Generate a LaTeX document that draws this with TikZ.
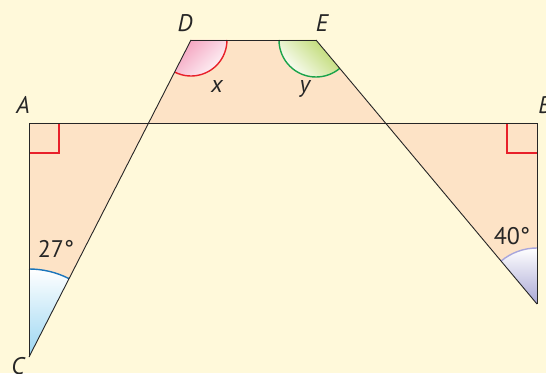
\documentclass[tikz,border=0pt]{standalone}
\usepackage{fontspec}
\setmainfont{PT Sans}
\usetikzlibrary{calc}

\definecolor{paper}{HTML}{FFF9DA}
\definecolor{peach}{HTML}{FDE3C6}
\definecolor{markred}{HTML}{E8202A}
\definecolor{pinkfill}{HTML}{F4A3BF}
\definecolor{greenline}{HTML}{1AA34A}
\definecolor{greenfill}{HTML}{BBD86A}
\definecolor{blueline}{HTML}{1B75BB}
\definecolor{bluefill}{HTML}{9AD6F2}
\definecolor{lavline}{HTML}{A8A6DC}
\definecolor{lavfill}{HTML}{A9A7D4}

\begin{document}
\begin{tikzpicture}[
    x=1pt, y=1pt,
    edge/.style={draw=black!85, line width=0.9pt},
    arcmark/.style={line width=1.4pt},
    rightmark/.style={draw=markred, line width=1.2pt},
    lbl/.style={font=\fontsize{24}{28}\selectfont\itshape, inner sep=0pt,
                anchor=base, text=black!85},
    deg/.style={font=\fontsize{24}{28}\selectfont, inner sep=0pt,
                anchor=base, text=black!85}
  ]
  \fill[paper] (0,0) rectangle (546,373);
  \useasboundingbox (0,0) rectangle (546,373);

  \coordinate (A) at (29,250);
  \coordinate (B) at (537,250);
  \coordinate (C) at (29,16);
  \coordinate (F) at (537,69);
  \coordinate (D) at (191,333);
  \coordinate (E) at (316,333);
  \coordinate (P) at (intersection of C--D and A--B);
  \coordinate (Q) at (intersection of F--E and A--B);

  % shaded regions
  \fill[peach] (A) -- (P) -- (C) -- cycle;
  \fill[peach] (P) -- (D) -- (E) -- (Q) -- cycle;
  \fill[peach] (Q) -- (B) -- (F) -- cycle;

  % angle sectors
  \shade[top color=white, bottom color=bluefill]
    (C) -- ++(90:88) arc[start angle=90, end angle=62.93, radius=88] -- cycle;
  \draw[arcmark, blueline] (C) ++(90:88) arc[start angle=90, end angle=62.93, radius=88];

  \shade[top color=white, bottom color=lavfill]
    (F) -- ++(90:56) arc[start angle=90, end angle=129.94, radius=56] -- cycle;
  \draw[arcmark, lavline] (F) ++(90:56) arc[start angle=90, end angle=129.94, radius=56];

  \shade[top color=pinkfill, bottom color=white, shading angle=45]
    (D) -- ++(242.93:36) arc[start angle=242.93, end angle=360, radius=36] -- cycle;
  \draw[arcmark, markred] (D) ++(242.93:36) arc[start angle=242.93, end angle=360, radius=36];

  \shade[top color=greenfill, bottom color=white, shading angle=-45]
    (E) -- ++(180:37) arc[start angle=180, end angle=309.94, radius=37] -- cycle;
  \draw[arcmark, greenline] (E) ++(180:37) arc[start angle=180, end angle=309.94, radius=37];

  % right angles
  \draw[rightmark] ($(A)+(0,-30)$) -| ($(A)+(30,0)$);
  \draw[rightmark] ($(B)+(-30,0)$) |- ($(B)+(0,-30)$);

  % edges
  \draw[edge] (A) -- (B);
  \draw[edge] (A) -- (C);
  \draw[edge] (B) -- (F);
  \draw[edge] (D) -- (E);
  \draw[edge] (C) -- (D);
  \draw[edge] (F) -- (E);

  % labels
  \node[lbl] (lblA) at (23,260) {A};
  \node[lbl] (lblB) at (545,260) {B};
  \node[lbl] (lblC) at (18,-1) {C};
  \node[lbl] (lblF) at (551,39) {F};
  \node[lbl] (lblD) at (185,341) {D};
  \node[lbl] (lblE) at (322,341) {E};
  \node[lbl] (lblx) at (217,280) {x};
  \node[lbl] (lbly) at (305,280) {y};
  \node[deg] (deg27) at (56,116) {27°};
  \node[deg] (deg40) at (512,129) {40°};
\end{tikzpicture}
\end{document}
